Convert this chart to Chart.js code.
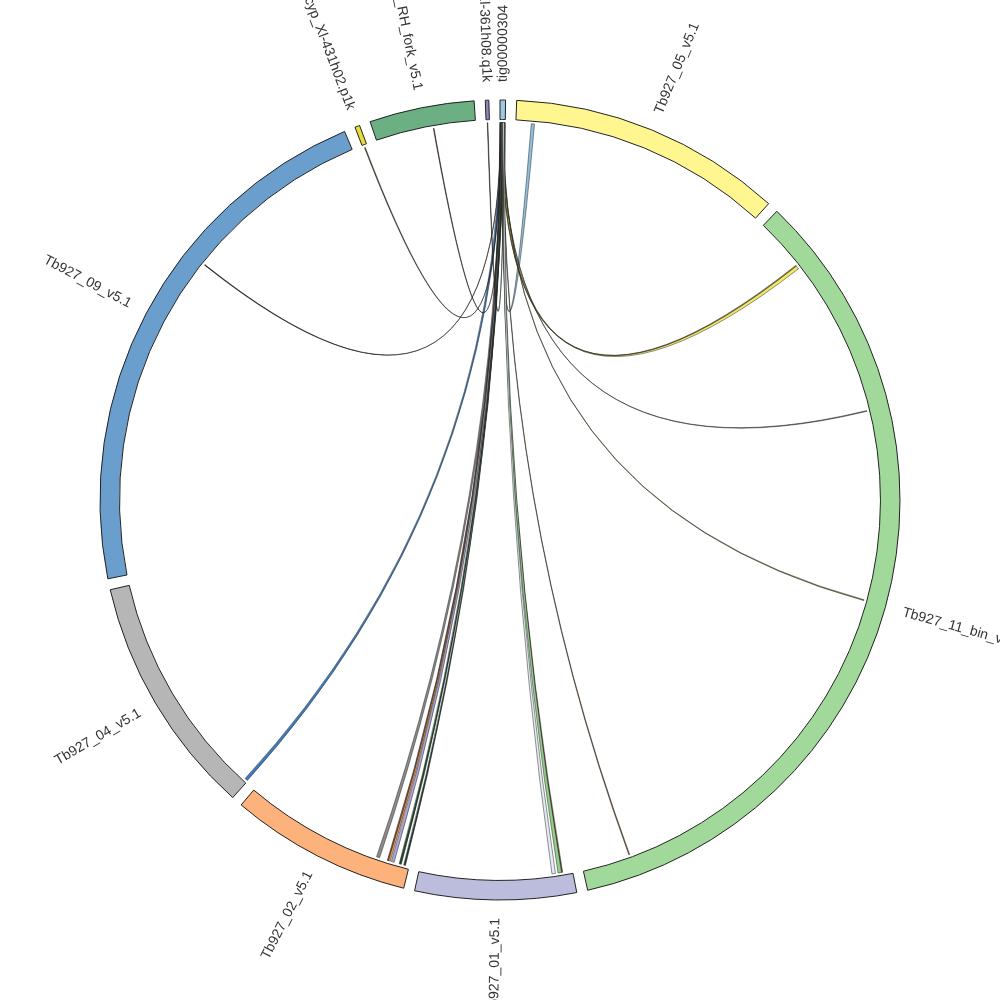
<!DOCTYPE html>
<html><head><meta charset="utf-8">
<script src="https://cdn.jsdelivr.net/npm/chart.js@4.4.1/dist/chart.umd.min.js"></script>
<style>html,body{margin:0;padding:0;background:#fff;overflow:hidden}canvas{display:block}</style>
</head><body>
<canvas id="c" width="1000" height="1000"></canvas>
<script>
// ---- data ----
const segmentNames = ['tig00000304','Tb927_05_v5.1','Tb927_11_bin_v5.1','Tb927_01_v5.1','Tb927_02_v5.1','Tb927_04_v5.1','Tb927_09_v5.1','Tbcyp_Xl-431h02.p1k','Tb927_10_RH_fork_v5.1','Tbcyp_Xl-361h08.q1k'];
const segmentLengthsKb = [36, 1791, 5560, 1053, 1188, 1580, 3533, 32, 686, 23];
const segmentColors = ['#9ecae1','#fff68f','#a1d99b','#bcbddc','#fdb27c','#b6b6b6','#6a9fcd','#e8dc3a','#6baf82','#8f86c0'];
const gapKb = 72;

const chordSources      = ['tig00000304','tig00000304','tig00000304','tig00000304','tig00000304','tig00000304','tig00000304','tig00000304','tig00000304','tig00000304','tig00000304','tig00000304','tig00000304','tig00000304','tig00000304','tig00000304','tig00000304','Tbcyp_Xl-431h02.p1k','Tb927_10_RH_fork_v5.1','Tbcyp_Xl-361h08.q1k'];
const chordSourceStartKb = [18, 10, 10, 17, 20, 22,  6,  2,  2,  6,  9, 10, 14, 18, 16, 16, 20, 10, 395,  8];
const chordSourceEndKb   = [34, 26, 14, 20, 23, 25,  9, 18, 18, 22, 14, 26, 28, 24, 24, 34, 34, 16, 400, 12];
const chordTargets      = ['Tb927_05_v5.1','Tb927_11_bin_v5.1','Tb927_11_bin_v5.1','Tb927_11_bin_v5.1','Tb927_11_bin_v5.1','Tb927_11_bin_v5.1','Tb927_09_v5.1','Tb927_04_v5.1','Tb927_02_v5.1','Tb927_02_v5.1','Tb927_02_v5.1','Tb927_02_v5.1','Tb927_02_v5.1','Tb927_02_v5.1','Tb927_01_v5.1','Tb927_01_v5.1','Tb927_01_v5.1','tig00000304','tig00000304','tig00000304'];
const chordTargetStartKb = [106, 356, 350, 1463, 2769, 5226, 2243,  4, 210, 134, 146, 106, 55, 26, 68, 76, 118,  1,  0, 31];
const chordTargetEndKb   = [128, 380, 356, 1468, 2775, 5232, 2248, 24, 232, 154, 152, 126, 70, 38, 76, 100, 142,  3,  2, 33];
const chordColors = ['#8fc1de','#f3e862','#b5a93a','#7d8a6a','#8f8a2e','#8b5a2b','#3a2a1a','#3b7bbf','#8c8c8c','#fd9e5c','#8b5a3c','#aaa8d8','#1f4a2c','#2a3a30','#8b4a2a','#8fd08a','#e6eef2','#4a4a2a','#5a2e1e','#2a2a2a'];

// ---- build doughnut data (segments interleaved with gaps) ----
const ringValues = [], ringColors = [], ringBorders = [], ringLabels = [];
segmentNames.forEach((n, i) => {
  ringValues.push(segmentLengthsKb[i]); ringColors.push(segmentColors[i]); ringBorders.push(1); ringLabels.push(n);
  ringValues.push(gapKb); ringColors.push('rgba(0,0,0,0)'); ringBorders.push(0); ringLabels.push('');
});

const chordPlugin = {
  id: 'chords',
  afterDatasetsDraw(chart) {
    const arcs = chart.getDatasetMeta(0).data;
    const ctx = chart.ctx;
    const a0 = arcs[0];
    const cx = a0.x, cy = a0.y, r = a0.innerRadius - 3;
    const ang = (name, kb) => {
      const i = segmentNames.indexOf(name);
      const a = arcs[i * 2];
      return a.startAngle + (a.endAngle - a.startAngle) * kb / segmentLengthsKb[i];
    };
    const pt = t => [cx + r * Math.cos(t), cy + r * Math.sin(t)];
    ctx.save();
    chordSources.forEach((src, k) => {
      const s1 = ang(src, chordSourceStartKb[k]), s2 = ang(src, chordSourceEndKb[k]);
      const t1 = ang(chordTargets[k], chordTargetStartKb[k]), t2 = ang(chordTargets[k], chordTargetEndKb[k]);
      ctx.beginPath();
      const p = pt(s1); ctx.moveTo(p[0], p[1]);
      ctx.arc(cx, cy, r, s1, s2, false);
      const q = pt(t1); ctx.quadraticCurveTo(cx, cy, q[0], q[1]);
      ctx.arc(cx, cy, r, t1, t2, false);
      ctx.quadraticCurveTo(cx, cy, p[0], p[1]);
      ctx.closePath();
      ctx.fillStyle = chordColors[k];
      ctx.fill();
      ctx.lineWidth = 0.5;
      ctx.strokeStyle = '#222';
      ctx.stroke();
    });
    ctx.restore();
  },
  afterDraw(chart) {
    const arcs = chart.getDatasetMeta(0).data;
    const ctx = chart.ctx;
    ctx.save();
    ctx.font = '14px "Liberation Sans", Arial, sans-serif';
    ctx.fillStyle = '#333';
    ctx.textBaseline = 'middle';
    segmentNames.forEach((n, i) => {
      const a = arcs[i * 2];
      const mid = (a.startAngle + a.endAngle) / 2;
      const rr = a.outerRadius + 18;
      const x = a.x + rr * Math.cos(mid), y = a.y + rr * Math.sin(mid);
      const cw = mid + Math.PI / 2; // clockwise from top
      const norm = ((cw % (2 * Math.PI)) + 2 * Math.PI) % (2 * Math.PI);
      ctx.save();
      ctx.translate(x, y);
      if (norm < Math.PI) { ctx.rotate(mid); ctx.textAlign = 'left'; }
      else { ctx.rotate(mid + Math.PI); ctx.textAlign = 'right'; }
      ctx.fillText(n, 0, 0);
      ctx.restore();
    });
    ctx.restore();
  }
};

new Chart(document.getElementById('c'), {
  type: 'doughnut',
  data: {
    labels: ringLabels,
    datasets: [{
      data: ringValues,
      backgroundColor: ringColors,
      borderColor: '#222',
      borderWidth: ringBorders,
      borderAlign: 'center'
    }]
  },
  options: {
    responsive: false,
    animation: false,
    events: [],
    radius: 400,
    cutout: 380,
    rotation: 0,
    circumference: 360,
    layout: { padding: 100 },
    plugins: { legend: { display: false }, tooltip: { enabled: false } }
  },
  plugins: [chordPlugin]
});
</script>
</body></html>
